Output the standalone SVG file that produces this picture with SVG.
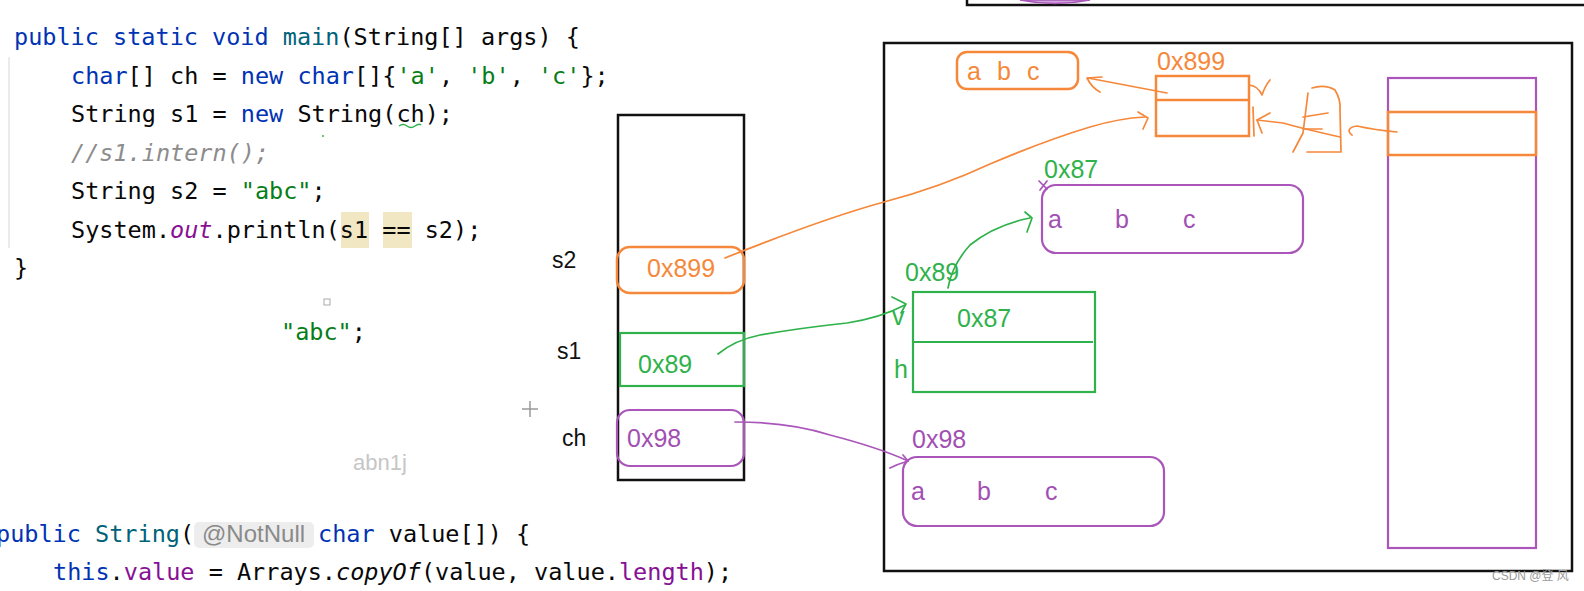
<svg xmlns="http://www.w3.org/2000/svg" width="1584" height="591" viewBox="0 0 1584 591">
<style>
.code{font-family:"DejaVu Sans Mono","Liberation Mono",monospace;font-size:23.5px;fill:#080808}
.kw{fill:#0033b3}
.fn{fill:#00627a}
.str{fill:#067d17}
.cm{fill:#8c8c8c;font-style:italic}
.sf{fill:#871094;font-style:italic}
.fld{fill:#871094}
.it{font-style:italic}
.lbl{font-family:"Liberation Sans","Noto Sans",sans-serif;font-size:25px}
.blk{font-family:"Liberation Sans","Noto Sans",sans-serif;font-size:23px;fill:#111}
.or{fill:#f5883a}
.gr{fill:#2fb24b}
.pu{fill:#a24fb4}
.box{fill:none;stroke:#111;stroke-width:2.5}
.so{fill:none;stroke:#f5883a;stroke-width:2.5}
.sg{fill:none;stroke:#2fb24b;stroke-width:2.2}
.sp{fill:none;stroke:#a955b9;stroke-width:2.2}
.ho{fill:none;stroke:#f5883a;stroke-width:1.7;stroke-linecap:round;stroke-linejoin:round}
.hg{fill:none;stroke:#2fb24b;stroke-width:1.7;stroke-linecap:round;stroke-linejoin:round}
.hp{fill:none;stroke:#a955b9;stroke-width:1.7;stroke-linecap:round;stroke-linejoin:round}
</style>
<rect width="1584" height="591" fill="#ffffff"/>

<g id="code">
  <line x1="9" y1="57" x2="9" y2="248" stroke="#e4e4e4" stroke-width="1.5"/>
  <rect x="341" y="212" width="28" height="36" fill="#f1e7c3"/>
  <rect x="383" y="212" width="29" height="36" fill="#f1e7c3"/>
  <text class="code" x="14" y="45" xml:space="preserve"><tspan class="kw">public static void</tspan> <tspan class="fn">main</tspan>(String[] args) {</text>
  <text class="code" x="71" y="83.5" xml:space="preserve"><tspan class="kw">char</tspan>[] ch = <tspan class="kw">new</tspan> <tspan class="kw">char</tspan>[]{<tspan class="str">'a'</tspan>, <tspan class="str">'b'</tspan>, <tspan class="str">'c'</tspan>};</text>
  <text class="code" x="71" y="122" xml:space="preserve">String s1 = <tspan class="kw">new</tspan> String(ch);</text>
  <path d="M399,126 q4,-3 8,0 t8,0 t6,-1" fill="none" stroke="#2fb24b" stroke-width="1.5"/>
  <circle cx="323" cy="136" r="1" fill="#2fb24b"/>
  <text class="code" x="71" y="160.5" xml:space="preserve"><tspan class="cm">//s1.intern();</tspan></text>
  <text class="code" x="71" y="199" xml:space="preserve">String s2 = <tspan class="str">"abc"</tspan>;</text>
  <text class="code" x="71" y="237.5" xml:space="preserve">System.<tspan class="sf">out</tspan>.println(s1 == s2);</text>
  <text class="code" x="14" y="276" xml:space="preserve">}</text>
  <rect x="324" y="299" width="6" height="6" fill="none" stroke="#aaa" stroke-width="1"/>
  <text class="code" x="281" y="340" xml:space="preserve"><tspan class="str">"abc"</tspan>;</text>
  <path d="M522,409 L538,409 M530,401 L530,417" stroke="#9a9a9a" stroke-width="1.5"/>
  <text x="353" y="470" font-family="Liberation Sans,Noto Sans,sans-serif" font-size="22" fill="#c6c6c6">abn1j</text>
  <text class="code" x="-4" y="542" xml:space="preserve"><tspan class="kw">public</tspan> <tspan class="fn">String</tspan>(</text>
  <rect x="194" y="522" width="120" height="26" rx="5" fill="#ededed"/>
  <text x="202" y="542" font-family="Liberation Sans,Noto Sans,sans-serif" font-size="24" fill="#8a8a8a">@NotNull</text>
  <text class="code" x="318" y="542" xml:space="preserve"><tspan class="kw">char</tspan> value[]) {</text>
  <text class="code" x="53" y="580" xml:space="preserve"><tspan class="kw">this</tspan>.<tspan class="fld">value</tspan> = Arrays.<tspan class="it">copyOf</tspan>(value, value.<tspan class="fld">length</tspan>);</text>
</g>

<g id="top-frame">
  <path d="M967,0 L967,5 L1584,5" class="box"/>
  <path d="M1020,0 Q1055,7 1090,0 Z" fill="#cfa6dc" stroke="#a955b9" stroke-width="1.5"/>
</g>

<g id="stack">
  <rect x="618" y="115" width="126" height="365" class="box"/>
  <text class="blk" x="552" y="268">s2</text>
  <text class="blk" x="557" y="359">s1</text>
  <text class="blk" x="562" y="446">ch</text>
</g>
<g id="stack-s2">
  <rect x="617" y="247" width="127" height="46" rx="13" class="so"/>
  <text class="lbl or" x="647" y="277">0x899</text>
</g>
<g id="stack-s1">
  <rect x="620" y="333" width="124" height="53" class="sg"/>
  <text class="lbl gr" x="638" y="373">0x89</text>
</g>
<g id="stack-ch">
  <rect x="617" y="410" width="127" height="56" rx="13" class="sp"/>
  <text class="lbl pu" x="627" y="447">0x98</text>
</g>

<g id="heap">
  <rect x="884" y="43" width="688" height="528" class="box"/>
</g>
<g id="const-abc">
  <rect x="957" y="52" width="121" height="37" rx="10" class="so"/>
  <text class="lbl or" x="967" y="80">a</text>
  <text class="lbl or" x="997" y="80">b</text>
  <text class="lbl or" x="1027" y="80">c</text>
</g>
<g id="string-0x899">
  <text class="lbl or" x="1157" y="70">0x899</text>
  <rect x="1156" y="76" width="93" height="60" class="so"/>
  <line x1="1156" y1="100" x2="1249" y2="100" class="so"/>
</g>
<g id="array-0x87">
  <text class="lbl gr" x="1044" y="178">0x87</text>
  <rect x="1042" y="185" width="261" height="68" rx="14" class="sp"/>
  <text class="lbl pu" x="1048" y="228">a</text>
  <text class="lbl pu" x="1115" y="228">b</text>
  <text class="lbl pu" x="1183" y="228">c</text>
</g>
<g id="string-0x89">
  <text class="lbl gr" x="905" y="281">0x89</text>
  <rect x="913" y="292" width="182" height="100" class="sg"/>
  <line x1="913" y1="342" x2="1093" y2="342" class="sg"/>
  <text class="lbl gr" x="957" y="327">0x87</text>
  <text class="lbl gr" x="892" y="325">v</text>
  <text class="lbl gr" x="894" y="378">h</text>
</g>
<g id="array-0x98">
  <text class="lbl pu" x="912" y="448">0x98</text>
  <rect x="903" y="457" width="261" height="69" rx="14" class="sp"/>
  <text class="lbl pu" x="911" y="500">a</text>
  <text class="lbl pu" x="977" y="500">b</text>
  <text class="lbl pu" x="1045" y="500">c</text>
</g>
<g id="string-pool">
  <rect x="1388" y="78" width="148" height="470" class="sp"/>
  <rect x="1388" y="112" width="148" height="43" class="so"/>
</g>

<g id="connectors">
  <path class="ho" d="M725,258 C780,236 840,214 884,202 C930,190 960,178 990,164 C1030,147 1060,136 1090,127 C1110,121 1125,118 1145,117"/>
  <path class="ho" d="M1138,112 L1148,118 L1143,129"/>
  <path class="ho" d="M1167,93 L1088,78"/>
  <path class="ho" d="M1102,77 L1087,78 Q1092,88 1100,92"/>
  <path class="ho" d="M1249,85 Q1258,86 1262,95 Q1265,86 1270,80"/>
  <path class="ho" d="M1340,137 Q1300,128 1283,123 L1257,120"/>
  <path class="ho" d="M1270,113 L1257,120 L1262,133"/>
  <path class="ho" d="M1253,107 L1254,136"/>
  <path class="ho" d="M1308,93 L1303,133 L1293,152 M1303,117 L1328,113 M1303,129 L1322,129 M1312,88 Q1325,84 1335,90 Q1341,100 1340,110 L1341,152 L1307,152"/>
  <path class="ho" d="M1397,132 Q1375,130 1357,126 Q1349,127 1349,131 Q1350,134 1352,135"/>
  <path class="hg" d="M718,354 Q735,340 760,335 Q800,328 847,323 Q880,318 905,305"/>
  <path class="hg" d="M892,297 L906,304 L901,313"/>
  <path class="hg" d="M948,288 Q952,265 970,245 Q995,225 1030,218"/>
  <path class="hg" d="M1025,212 L1032,218 L1027,232"/>
  <path class="hp" d="M1039,181 L1047,189 M1047,181 L1040,190" stroke-width="1.2"/>
  <path class="hp" d="M735,422 Q790,422 830,435 Q880,448 908,461"/>
  <path class="hp" d="M890,468 Q898,464 908,461 L903,455"/>
</g>

<text x="1492" y="580" font-family="Liberation Sans,Noto Sans CJK SC,sans-serif" font-size="12" fill="#9a9a9a">CSDN @登 风</text>
</svg>
